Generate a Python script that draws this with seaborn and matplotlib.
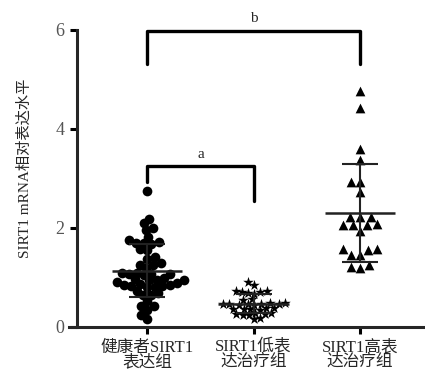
import numpy as np
import pandas as pd
import seaborn as sns
import matplotlib.pyplot as plt

groups = ["健康者SIRT1\n表达组", "SIRT1低表\n达治疗组", "SIRT1高表\n达治疗组"]

healthy = [2.74, 2.19, 2.09, 1.99, 1.95, 1.76, 1.81, 1.70, 1.71, 1.69, 1.68, 1.56, 1.57,
           1.41, 1.38, 1.29, 1.26, 1.25, 1.19, 1.09, 1.07, 1.06, 1.10, 1.08, 1.05, 0.99,
           0.95, 0.96, 0.94, 0.95, 0.89, 0.85, 0.80, 0.82, 0.83, 0.81, 0.84, 0.90, 0.86,
           0.73, 0.65, 0.64, 0.68, 0.52, 0.42, 0.43, 0.35, 0.25, 0.16]
low = [0.90, 0.85, 0.72, 0.73, 0.71, 0.70, 0.67, 0.69, 0.55, 0.56, 0.47, 0.48, 0.46,
       0.45, 0.46, 0.47, 0.48, 0.46, 0.45, 0.37, 0.36, 0.38, 0.39, 0.35, 0.37, 0.26,
       0.24, 0.27, 0.25, 0.28, 0.29, 0.18, 0.16]
high = [4.77, 4.43, 3.60, 3.37, 2.93, 2.93, 2.73, 2.23, 2.23, 2.23, 2.06, 2.06, 2.06,
        2.08, 1.94, 1.57, 1.57, 1.56, 1.46, 1.46, 1.19, 1.26, 1.22]

values = [healthy, low, high]
markers = ["o", "*", "^"]
swarm_sizes = [5.2, 4.3, 6.5]   # spacing used by the swarm layout
draw_sizes = [7.0, 8.0, 7.0]    # marker size actually drawn (overlap allowed)

df = pd.DataFrame({
    "group": np.repeat(groups, [len(v) for v in values]),
    "value": np.concatenate(values),
})

sns.set_style("ticks")
plt.rcParams["font.family"] = ["Liberation Serif", "Noto Sans CJK SC"]

fig = plt.figure(figsize=(4.25, 3.72), dpi=100)
ax = fig.add_axes([0.181, 0.121, 0.819, 0.852])

ax.set_xlim(-0.66, 2.61)
ax.set_ylim(0, 6.4)

for g, m, s, d in zip(groups, markers, swarm_sizes, draw_sizes):
    n_before = len(ax.collections)
    sns.swarmplot(data=df[df["group"] == g], x="group", y="value", order=groups,
                  marker=m, size=s, color="black", linewidth=0, ax=ax)
    ax.set_xlim(-0.66, 2.61)
    ax.set_ylim(0, 6.4)
    fig.canvas.draw()
    for coll in ax.collections[n_before:]:
        # freeze the swarm layout, then enlarge the markers
        if "draw" in coll.__dict__:
            del coll.draw
        coll.set_sizes([d ** 2])

# mean and SD lines
for i, v in enumerate(values):
    mu, sd = np.mean(v), np.std(v, ddof=1)
    ax.hlines(mu, i - 0.33, i + 0.33, color="#222222", lw=1.8, zorder=5)
    ax.hlines([mu - sd, mu + sd], i - 0.17, i + 0.17, color="#222222", lw=1.5, zorder=5)
    ax.vlines(i, mu - sd, mu + sd, color="#222222", lw=1.5, zorder=5)

# significance brackets
ax.plot([0, 0, 1, 1], [2.93, 3.26, 3.26, 2.54], color="black", lw=2.4, clip_on=False)
ax.text(0.5, 3.36, "a", ha="center", va="bottom", fontsize=11)
ax.plot([0, 0, 2, 2], [5.32, 5.97, 5.97, 5.32], color="black", lw=2.4, clip_on=False)
ax.text(1.0, 6.1, "b", ha="center", va="bottom", fontsize=11)

ax.set_xlim(-0.66, 2.61)
ax.set_ylim(0, 6.4)
ax.set_yticks([0, 2, 4, 6])
ax.spines["left"].set_bounds(0, 6)
ax.spines["bottom"].set_bounds(-0.73, 2.61)
for sp in ["top", "right"]:
    ax.spines[sp].set_visible(False)
for sp in ["left", "bottom"]:
    ax.spines[sp].set_linewidth(2.2)
ax.tick_params(axis="both", width=2.2, length=5, color="black")
ax.tick_params(axis="y", labelsize=13, labelcolor="#555555", pad=4)
ax.tick_params(axis="x", labelsize=12, pad=4)
for lab in ax.get_xticklabels():
    lab.set_linespacing(0.88)
ax.set_xlabel("")
ax.set_ylabel("SIRT1 mRNA相对表达水平", fontsize=11, labelpad=17)

fig.savefig("out.png", dpi=100)
